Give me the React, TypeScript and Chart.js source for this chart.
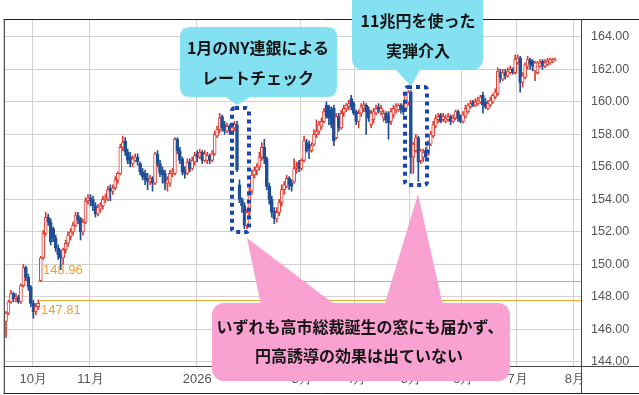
import React, { useEffect, useRef } from 'react';
import { Chart, registerables } from 'chart.js';

Chart.register(...registerables);

// ---- calendar (weekday trading days) ----
const startDate = '2025-09-16';
const endDate = '2026-08-05';

// ---- OHLC values (USD/JPY daily) ----
const opens = [
  146.5, 147.0, 147.7, 148.2, 147.9, 148.0, 147.7, 148.7, 149.8, 149.2,
  148.6, 147.6, 147.1, 147.4, 149.0, 150.4, 151.9, 152.9, 152.6, 152.2,
  151.6, 151.0, 150.6, 150.4, 150.9, 151.3, 151.7, 152.0, 152.4, 153.0,
  152.8, 152.0, 152.6, 153.9, 154.1, 154.0, 153.6, 153.1, 153.4, 153.6,
  154.0, 154.0, 154.7, 154.5, 154.7, 155.2, 155.6, 157.2, 157.6, 156.9,
  156.6, 156.2, 156.4, 156.6, 156.2, 155.7, 155.6, 155.3, 155.1, 155.3,
  155.0, 156.8, 156.2, 155.8, 155.6, 155.0, 155.0, 155.6, 155.6, 157.7,
  157.0, 156.5, 155.8, 155.6, 156.3, 155.9, 156.3, 156.8, 156.6, 156.9,
  156.4, 156.4, 156.7, 156.4, 156.8, 157.9, 158.3, 159.1, 158.6, 158.2,
  158.5, 158.2, 158.4, 158.6, 154.9, 154.0, 153.6, 152.4, 153.2, 154.5,
  155.5, 155.8, 156.0, 156.6, 157.2, 156.5, 154.8, 154.0, 153.3, 152.8,
  153.2, 153.8, 154.6, 154.8, 155.3, 155.0, 155.1, 155.9, 156.3, 155.9,
  156.4, 157.5, 157.4, 157.0, 157.4, 158.0, 158.2, 158.5, 158.8, 159.8,
  159.7, 159.5, 159.6, 157.8, 159.1, 158.4, 159.3, 159.6, 159.7, 160.2,
  159.9, 159.4, 158.8, 159.3, 159.6, 159.8, 159.5, 158.6, 158.9, 159.3,
  159.7, 159.4, 159.0, 159.3, 159.2, 158.8, 159.2, 159.5, 159.5, 159.8,
  159.7, 159.6, 160.0, 160.6, 156.6, 157.0, 157.8, 156.4, 156.6, 157.0,
  156.8, 157.4, 157.9, 158.5, 158.9, 159.2, 158.9, 158.8, 158.9, 159.1,
  158.8, 159.0, 159.4, 159.1, 158.8, 159.1, 159.4, 159.7, 160.0, 159.8,
  159.9, 160.0, 160.4, 160.0, 159.6, 159.8, 160.0, 160.3, 160.5, 161.8,
  161.4, 161.8, 161.6, 161.8, 162.0, 161.8, 162.4, 162.7, 161.2, 161.5,
  162.2, 162.6, 162.5, 161.9, 161.8, 162.2, 162.5, 162.2, 162.3, 162.4,
  162.5, 162.5,
];
const highs = [
  147.1, 147.8, 148.4, 148.3, 148.2, 148.1, 148.8, 150.0, 149.9, 149.4,
  148.7, 147.8, 147.6, 147.81, 150.5, 152.1, 153.2, 153.1, 152.8, 152.3,
  151.8, 151.2, 150.9, 151.0, 151.5, 152.0, 152.2, 152.6, 153.2, 153.2,
  152.9, 152.8, 154.1, 154.3, 154.3, 154.2, 153.8, 153.7, 153.8, 154.2,
  154.3, 154.8, 154.9, 154.9, 155.4, 155.7, 157.4, 157.9, 157.8, 157.1,
  156.9, 156.7, 156.8, 156.8, 156.3, 155.9, 155.8, 155.6, 155.5, 155.4,
  156.9, 157.0, 156.4, 156.0, 155.8, 155.4, 155.8, 155.9, 157.8, 157.8,
  157.2, 156.6, 156.0, 156.5, 156.5, 156.6, 156.9, 157.0, 157.1, 157.0,
  157.0, 156.9, 156.8, 157.0, 158.2, 158.5, 159.3, 159.2, 158.8, 158.7,
  158.6, 158.6, 158.8, 158.8, 155.2, 154.1, 153.8, 153.4, 154.7, 155.8,
  156.0, 156.2, 156.9, 157.5, 157.7, 156.6, 155.0, 154.2, 153.5, 153.5,
  154.0, 154.9, 155.1, 155.5, 155.4, 155.2, 156.5, 156.3, 156.4, 156.5,
  157.9, 157.7, 157.6, 157.5, 158.3, 158.9, 158.8, 159.0, 159.6, 160.0,
  159.8, 159.7, 159.8, 159.3, 159.3, 159.5, 159.8, 159.9, 160.1, 160.4,
  160.0, 159.5, 159.5, 159.9, 160.0, 159.9, 159.7, 159.5, 159.6, 159.8,
  159.9, 159.8, 159.5, 159.4, 159.4, 159.6, 159.8, 159.9, 159.9, 159.9,
  159.9, 160.6, 160.7, 160.7, 157.5, 158.0, 157.9, 157.1, 157.1, 157.2,
  157.6, 158.2, 158.8, 159.2, 159.3, 159.3, 159.3, 159.2, 159.3, 159.2,
  159.2, 159.5, 159.5, 159.2, 159.4, 159.8, 159.9, 160.1, 160.1, 160.2,
  160.3, 160.4, 160.6, 160.2, 160.1, 160.3, 160.5, 160.8, 162.1, 162.0,
  162.0, 162.0, 162.1, 162.2, 162.1, 162.9, 162.9, 162.8, 161.8, 162.4,
  162.8, 162.7, 162.6, 162.5, 162.5, 162.6, 162.6, 162.6, 162.7, 162.7,
  162.7, 162.7,
];
const lows = [
  145.5, 146.9, 147.6, 147.7, 147.7, 147.6, 147.6, 148.6, 149.0, 148.4,
  147.4, 146.7, 146.9, 147.2, 148.96, 150.3, 151.8, 152.4, 151.2, 151.4,
  150.8, 150.3, 149.7, 150.0, 150.7, 151.1, 151.5, 151.8, 152.3, 152.5,
  151.5, 151.8, 152.5, 153.7, 153.6, 153.3, 152.9, 153.0, 153.2, 153.4,
  153.8, 153.9, 153.9, 154.3, 154.6, 155.0, 155.5, 157.0, 156.7, 156.2,
  156.0, 156.0, 156.3, 156.1, 155.5, 155.2, 154.9, 154.6, 154.9, 154.5,
  154.9, 156.0, 155.4, 155.0, 154.6, 154.5, 154.8, 155.4, 155.5, 156.8,
  156.2, 155.5, 155.3, 155.5, 155.7, 155.8, 156.1, 156.3, 156.5, 156.2,
  156.3, 156.2, 156.2, 156.3, 156.7, 157.8, 158.1, 158.2, 158.0, 158.1,
  158.0, 158.0, 158.2, 155.7, 153.8, 153.2, 152.2, 152.2, 153.0, 154.3,
  155.3, 155.5, 155.8, 156.4, 156.2, 154.6, 153.7, 152.9, 152.5, 152.6,
  153.0, 153.6, 154.3, 154.7, 154.6, 154.5, 155.0, 155.6, 155.7, 155.8,
  156.3, 156.9, 156.5, 156.9, 157.3, 157.8, 158.0, 158.3, 158.7, 159.0,
  158.6, 158.4, 157.3, 157.7, 158.2, 158.3, 159.1, 159.4, 159.5, 159.5,
  159.2, 158.6, 158.4, 159.1, 159.4, 158.0, 158.8, 158.4, 158.7, 159.2,
  159.3, 159.2, 158.8, 158.7, 157.7, 158.6, 159.0, 159.3, 159.4, 159.3,
  159.2, 159.5, 159.8, 155.6, 155.6, 156.9, 155.1, 156.2, 156.3, 156.4,
  156.7, 157.3, 157.8, 158.4, 158.7, 158.7, 158.8, 158.7, 158.8, 158.6,
  158.7, 158.9, 158.8, 158.7, 158.7, 159.0, 159.3, 159.6, 159.7, 159.7,
  159.8, 159.9, 159.3, 159.6, 159.5, 159.7, 159.9, 160.2, 160.4, 161.2,
  161.3, 161.4, 161.5, 161.7, 161.7, 161.7, 162.3, 160.6, 160.9, 161.4,
  162.0, 162.0, 161.9, 161.3, 161.7, 162.1, 162.0, 162.1, 162.2, 162.3,
  162.4, 162.5,
];
const closes = [
  147.0, 147.7, 148.2, 147.9, 148.0, 147.7, 148.7, 149.8, 149.2, 148.6,
  147.6, 147.1, 147.4, 147.6, 150.4, 151.9, 152.9, 152.6, 151.4, 151.6,
  151.0, 150.6, 150.4, 150.9, 151.3, 151.8, 152.0, 152.4, 153.0, 152.7,
  152.0, 152.6, 153.9, 154.1, 153.9, 153.6, 153.1, 153.5, 153.6, 154.0,
  154.1, 154.6, 154.5, 154.7, 155.2, 155.6, 157.2, 157.5, 156.9, 156.4,
  156.2, 156.5, 156.6, 156.3, 155.7, 155.4, 155.2, 155.1, 155.3, 155.0,
  156.8, 156.2, 155.6, 155.5, 155.0, 155.2, 155.6, 155.7, 157.7, 157.0,
  156.4, 155.7, 155.6, 156.3, 155.9, 156.4, 156.7, 156.6, 156.9, 156.4,
  156.8, 156.7, 156.4, 156.8, 158.0, 158.3, 159.0, 158.4, 158.2, 158.5,
  158.2, 158.4, 158.6, 155.8, 154.0, 153.6, 152.4, 153.2, 154.5, 155.5,
  155.8, 156.0, 156.6, 157.2, 156.5, 154.8, 154.0, 153.2, 152.8, 153.2,
  153.8, 154.6, 154.9, 155.3, 154.9, 154.8, 155.9, 156.0, 155.9, 156.4,
  157.6, 157.0, 157.1, 157.3, 158.0, 158.2, 158.6, 158.8, 159.4, 159.1,
  159.0, 158.6, 157.6, 159.1, 158.4, 159.3, 159.6, 159.8, 159.9, 159.7,
  159.3, 158.8, 159.3, 159.7, 159.8, 159.4, 159.0, 159.3, 159.4, 159.6,
  159.5, 159.6, 159.3, 158.9, 158.7, 159.4, 159.6, 159.7, 159.8, 159.5,
  159.4, 160.5, 160.6, 156.6, 157.4, 157.8, 156.3, 157.0, 156.9, 156.6,
  157.4, 158.0, 158.6, 159.0, 159.1, 158.8, 159.1, 159.0, 159.1, 158.8,
  159.0, 159.4, 159.0, 158.8, 159.2, 159.6, 159.8, 159.9, 159.8, 160.0,
  160.1, 160.3, 159.8, 159.7, 159.9, 160.1, 160.4, 160.6, 161.9, 161.5,
  161.8, 161.6, 161.9, 162.0, 161.8, 162.6, 162.7, 161.2, 161.6, 162.3,
  162.6, 162.3, 162.2, 162.4, 162.4, 162.4, 162.2, 162.4, 162.5, 162.6,
  162.6, 162.6,
];

// ---- axis labels ----
const monthTickDates = ['2025-10-01', '2025-11-03', '2026-01-01', '2026-03-02', '2026-04-01', '2026-05-01', '2026-06-01', '2026-07-01', '2026-08-03'];
const monthTickLabels = ['10月', '11月', '2026', '3月', '4月', '5月', '6月', '7月', '8月'];

// ---- window (gap) lines ----
const windowHigh = 148.96;
const windowLow = 147.81;
const windowStartDate = '2025-10-03';

const UP = '#e33a2f';
const DOWN = '#1e4f97';

function weekdayLabels(start: string, end: string): string[] {
  const out: string[] = [];
  const d = new Date(start + 'T00:00:00Z');
  const e = new Date(end + 'T00:00:00Z');
  while (d <= e) {
    const wd = d.getUTCDay();
    if (wd !== 0 && wd !== 6) out.push(d.toISOString().slice(0, 10));
    d.setUTCDate(d.getUTCDate() + 1);
  }
  return out;
}

export default function App() {
  const ref = useRef<HTMLCanvasElement>(null);

  useEffect(() => {
    document.body.style.margin = '0';
    const labels = weekdayLabels(startDate, endDate);
    const tickMap = new Map<number, string>();
    monthTickDates.forEach((d, k) => tickMap.set(labels.indexOf(d), monthTickLabels[k]));

    const isUp = (i: number) => closes[i] >= opens[i];
    const lineColors = opens.map((_, i) => (isUp(i) ? UP : DOWN));
    const bodyFills = opens.map((_, i) => (isUp(i) ? '#ffffff' : DOWN));

    const overlay = {
      id: 'overlay',
      beforeDatasetsDraw(chart: any) {
        const { ctx, chartArea, scales } = chart;
        const xs = scales.x;
        const ys = scales.y;
        const xi = labels.indexOf(windowStartDate);
        const x0 = Math.round(xs.getPixelForValue(xi));
        ctx.save();
        ctx.strokeStyle = '#f0a830';
        ctx.lineWidth = 1;
        const yH = Math.round(ys.getPixelForValue(windowHigh)) + 0.5;
        const yL = Math.round(ys.getPixelForValue(windowLow)) + 0.5;
        [yH, yL].forEach((py) => {
          ctx.beginPath();
          ctx.moveTo(x0, py);
          ctx.lineTo(chartArea.right, py);
          ctx.stroke();
        });
        ctx.fillStyle = '#f0a030';
        ctx.font = '13px "Liberation Sans", sans-serif';
        ctx.textBaseline = 'middle';
        ctx.textAlign = 'left';
        ctx.fillText(windowHigh.toFixed(2), x0 + 5, yH - 11);
        ctx.fillText(windowLow.toFixed(2), x0 + 3, yL + 10);
        ctx.restore();
      },
      afterDraw(chart: any) {
        const { ctx, chartArea, width, height } = chart;
        ctx.save();
        ctx.lineWidth = 1;
        ctx.strokeStyle = '#222';
        ctx.beginPath();
        ctx.moveTo(chartArea.left - 1, chartArea.top + 0.5);
        ctx.lineTo(width, chartArea.top + 0.5);
        ctx.moveTo(chartArea.left - 0.5, chartArea.top);
        ctx.lineTo(chartArea.left - 0.5, height - 1);
        ctx.moveTo(chartArea.left - 1, height - 1.5);
        ctx.lineTo(width, height - 1.5);
        ctx.stroke();
        ctx.strokeStyle = '#444';
        ctx.beginPath();
        ctx.moveTo(chartArea.left - 1, chartArea.bottom + 0.5);
        ctx.lineTo(width, chartArea.bottom + 0.5);
        ctx.moveTo(chartArea.right + 0.5, chartArea.top);
        ctx.lineTo(chartArea.right + 0.5, height - 1);
        ctx.stroke();
        ctx.restore();
      },
    };

    const chart = new Chart(ref.current as HTMLCanvasElement, {
      type: 'bar',
      data: {
        labels,
        datasets: [
          {
            label: 'wick',
            data: lows.map((l, i) => [l, highs[i]]) as any,
            backgroundColor: lineColors,
            barThickness: 1,
            grouped: false,
            order: 2,
          } as any,
          {
            label: 'body',
            data: opens.map((o, i) => [o, closes[i]]) as any,
            backgroundColor: bodyFills,
            borderColor: lineColors,
            borderWidth: 1,
            borderSkipped: false,
            barThickness: 3,
            minBarLength: 1,
            grouped: false,
            order: 1,
          } as any,
        ],
      },
      options: {
        responsive: false,
        animation: false,
        devicePixelRatio: 1,
        layout: { padding: { left: 4, top: 19, right: 4, bottom: 2 } },
        plugins: { legend: { display: false }, tooltip: { enabled: false } },
        scales: {
          x: {
            type: 'category',
            offset: true,
            grid: {
              offset: true,
              drawTicks: false,
              color: (c: any) => (tickMap.has(c.index) ? '#d2d2d2' : 'rgba(0,0,0,0)'),
            },
            border: { display: false },
            ticks: {
              autoSkip: false,
              maxRotation: 0,
              minRotation: 0,
              padding: 6,
              color: '#555',
              font: { family: '"Liberation Sans", sans-serif', size: 13 },
              callback: (_v: any, i: number) => tickMap.get(i) ?? '',
            },
            afterFit: (s: any) => {
              s.height = 27;
            },
          } as any,
          y: {
            position: 'right',
            min: 143.75,
            max: 165.1,
            grid: { color: '#d2d2d2', drawTicks: false },
            border: { display: false },
            ticks: {
              stepSize: 2,
              includeBounds: false,
              padding: 10,
              color: '#555',
              font: { family: '"Liberation Sans", sans-serif', size: 12.5 },
              callback: (v: any) => Number(v).toFixed(2),
            },
            afterFit: (s: any) => {
              s.width = 54;
            },
          } as any,
        },
      },
      plugins: [overlay],
    });
    return () => chart.destroy();
  }, []);

  const cjk = "'Noto Sans CJK JP', 'Noto Sans', sans-serif";
  const cyan = '#84e1f2';
  const pink = '#f9a1d0';
  const txt = { fontFamily: cjk, fontWeight: 700, fontSize: 16, fill: '#151515' } as any;

  return (
    <div style={{ position: 'relative', width: 639, height: 395, background: '#fff', overflow: 'hidden' }}>
      <canvas ref={ref} width={639} height={395} style={{ position: 'absolute', left: 0, top: 0 }} />
      <svg width={639} height={395} style={{ position: 'absolute', left: 0, top: 0, pointerEvents: 'none' }}>
        <rect x={232} y={108} width={17} height={124} rx={3} fill="none" stroke="#1a44b0" strokeWidth={4} strokeDasharray="4 4" />
        <rect x={405} y={87} width={22} height={98} rx={3} fill="none" stroke="#1a44b0" strokeWidth={4} strokeDasharray="4 4" />

        <path d="M190,27 H327 Q337,27 337,37 V87 Q337,97 327,97 H250 L237,105 L226,97 H190 Q180,97 180,87 V37 Q180,27 190,27 Z" fill={cyan} />
        <text x={258} y={47} textAnchor="middle" dominantBaseline="central" style={txt}>1月のNY連銀による</text>
        <text x={258} y={77} textAnchor="middle" dominantBaseline="central" style={txt}>レートチェック</text>

        <path d="M364,-12 H471 Q483,-12 483,0 V58 Q483,70 471,70 H420 L411,86 L396,70 H364 Q352,70 352,58 V0 Q352,-12 364,-12 Z" fill={cyan} />
        <text x={418} y={20} textAnchor="middle" dominantBaseline="central" style={txt}>11兆円を使った</text>
        <text x={418} y={50} textAnchor="middle" dominantBaseline="central" style={txt}>実弾介入</text>

        <polygon points="247,238 262,310 342,310" fill={pink} />
        <polygon points="418,194 383,310 444,310" fill={pink} />
        <rect x={212} y={303} width={298} height={78} rx={12} fill={pink} />
        <text x={360} y={326} textAnchor="middle" dominantBaseline="central" style={txt}>いずれも高市総裁誕生の窓にも届かず、</text>
        <text x={359} y={355} textAnchor="middle" dominantBaseline="central" style={txt}>円高誘導の効果は出ていない</text>
      </svg>
    </div>
  );
}
